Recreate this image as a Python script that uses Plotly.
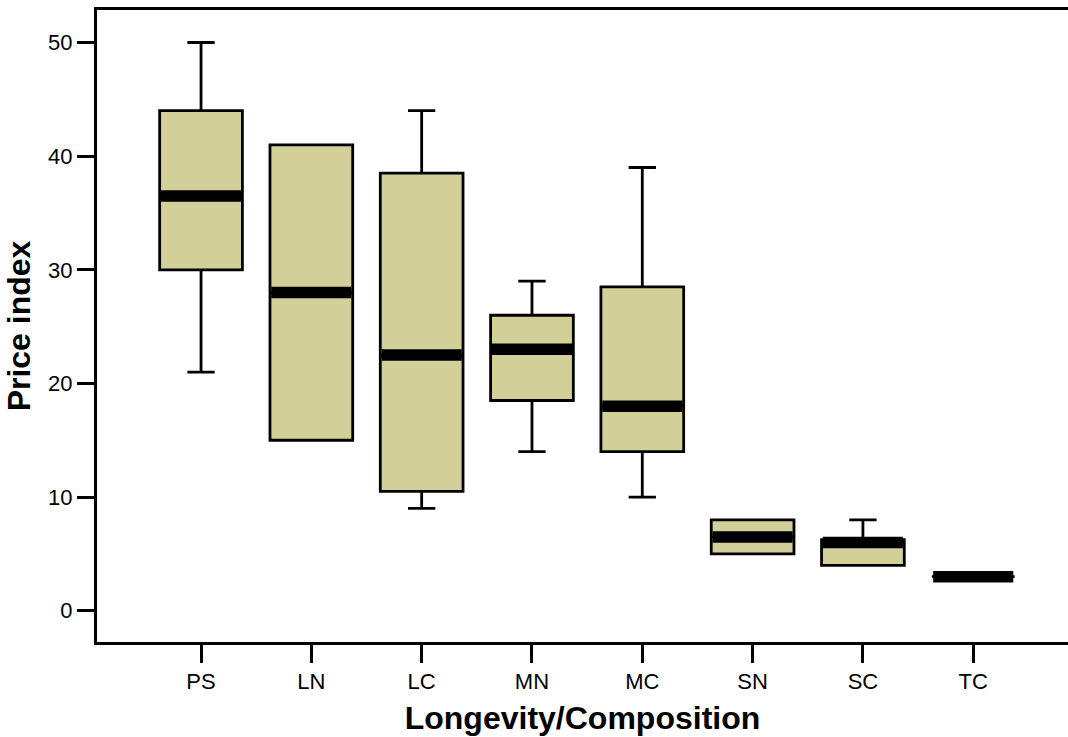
import plotly.graph_objects as go

categories = ["PS", "LN", "LC", "MN", "MC", "SN", "SC", "TC"]
lower_whisker = [21, 15, 9, 14, 10, 5, 4, 3]
q1 = [30, 15, 10.5, 18.5, 14, 5, 4, 3]
median = [36.5, 28, 22.5, 23, 18, 6.5, 6, 3]
q3 = [44, 41, 38.5, 26, 28.5, 8, 6.25, 3]
upper_whisker = [50, 41, 44, 29, 39, 8, 8, 3]
y_ticks = [0, 10, 20, 30, 40, 50]

FILL = "#D3CF99"
BOX_W = 0.75
xs = list(range(len(categories)))

fig = go.Figure()
fig.add_trace(go.Box(
    x=xs, q1=q1, median=median, q3=q3,
    lowerfence=lower_whisker, upperfence=upper_whisker,
    width=BOX_W, whiskerwidth=0.33,
    fillcolor=FILL, line=dict(color="black", width=2.8),
    boxpoints=False, hoverinfo="skip", showlegend=False,
))

# thick median bands
mx, my = [], []
for i, m in zip(xs, median):
    mx += [i - BOX_W / 2 + 0.012, i + BOX_W / 2 - 0.012, None]
    my += [m, m, None]
fig.add_trace(go.Scatter(
    x=mx, y=my, mode="lines", line=dict(color="black", width=11.5),
    hoverinfo="skip", showlegend=False,
))

fig.update_layout(
    width=1068, height=737,
    margin=dict(l=97, r=0, t=10, b=95),
    plot_bgcolor="white", paper_bgcolor="white",
    font=dict(family="Liberation Sans, Arial, sans-serif", color="black", size=22),
    xaxis=dict(
        range=[-0.943, 7.859], tickmode="array", tickvals=xs, ticktext=categories,
        showline=True, linecolor="black", linewidth=3, mirror=True,
        ticks="outside", ticklen=18, tickwidth=3, tickcolor="black",
        showgrid=False, zeroline=False,
        title=dict(text="<b>Longevity/Composition</b>", font=dict(size=32), standoff=14),
    ),
    yaxis=dict(
        range=[-2.75, 52.86], tickmode="array", tickvals=y_ticks,
        showline=True, linecolor="black", linewidth=3,
        ticks="outside", ticklen=17, tickwidth=3, tickcolor="black",
        showgrid=False, zeroline=False,
        title=dict(text="<b>Price index</b>", font=dict(size=32), standoff=8),
    ),
)

fig.write_html("out.html")
